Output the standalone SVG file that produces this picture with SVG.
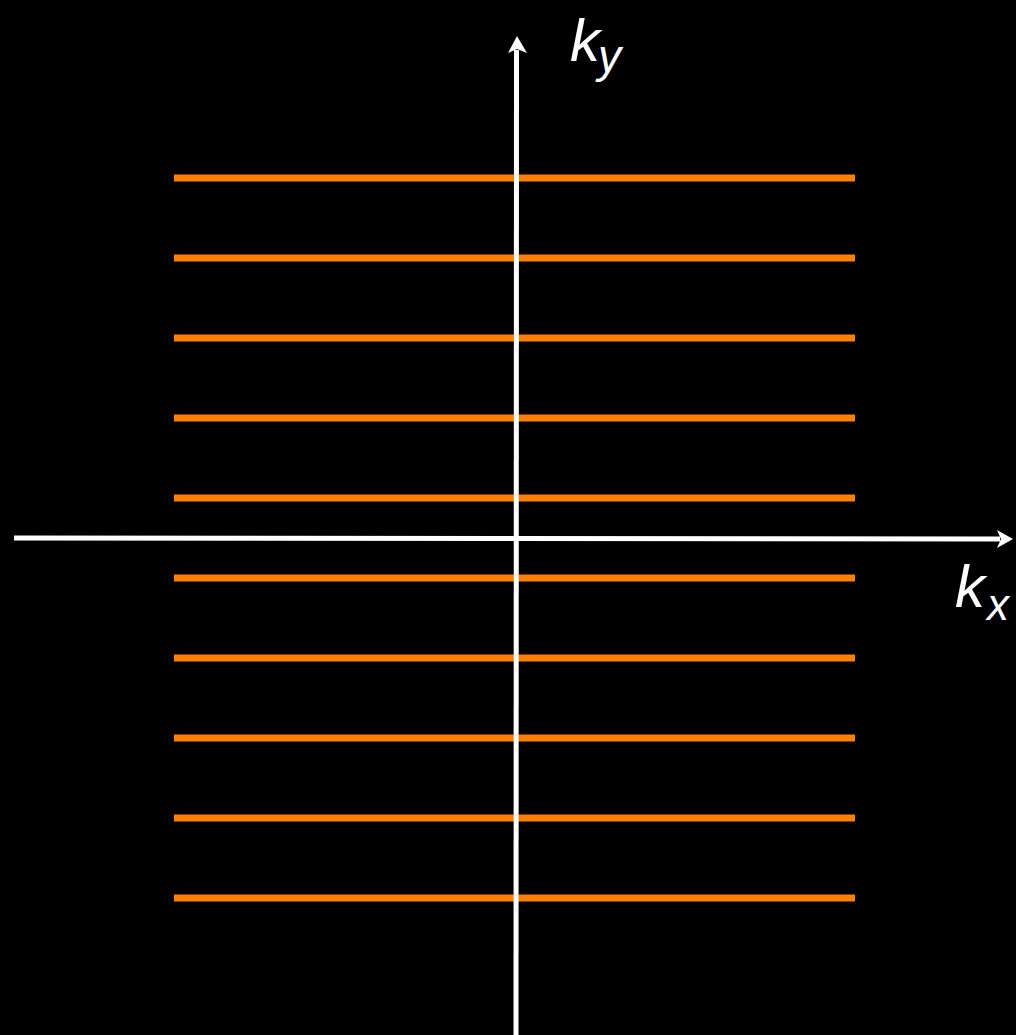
<svg xmlns="http://www.w3.org/2000/svg" width="1016" height="1035" viewBox="0 0 1016 1035">
<style>
.bg{fill:#000}
.ln{stroke:#ff7f00;stroke-width:7;fill:none}
.ax{stroke:#fff;stroke-width:5;fill:none}
.ah{fill:#fff}
.lbl{font-family:"Liberation Sans",Arial,sans-serif;font-style:italic;fill:#fff}
</style>
<rect class="bg" x="0" y="0" width="1016" height="1035"/>
<g id="lines">
<line class="ln" x1="174" y1="178" x2="855" y2="178"/>
<line class="ln" x1="174" y1="258" x2="855" y2="258"/>
<line class="ln" x1="174" y1="338" x2="855" y2="338"/>
<line class="ln" x1="174" y1="418" x2="855" y2="418"/>
<line class="ln" x1="174" y1="498" x2="855" y2="498"/>
<line class="ln" x1="174" y1="578" x2="855" y2="578"/>
<line class="ln" x1="174" y1="658" x2="855" y2="658"/>
<line class="ln" x1="174" y1="738" x2="855" y2="738"/>
<line class="ln" x1="174" y1="818" x2="855" y2="818"/>
<line class="ln" x1="174" y1="898" x2="855" y2="898"/>
</g>
<g id="connectors">
<line class="ax" x1="516" y1="1035" x2="516.5" y2="50"/>
<polygon class="ah" points="517,36 527,53 517,49 508,53"/>
<line class="ax" x1="14" y1="538" x2="1000" y2="539"/>
<polygon class="ah" points="1013,539 997,548 1001,539 997,530"/>
</g>
<g id="label-ky">
<text class="lbl" x="570" y="61" font-size="60">k</text>
<text class="lbl" x="598" y="72" font-size="46">y</text>
</g>
<g id="label-kx">
<text class="lbl" x="955" y="607" font-size="60">k</text>
<text class="lbl" x="987" y="620" font-size="44">x</text>
</g>
</svg>
